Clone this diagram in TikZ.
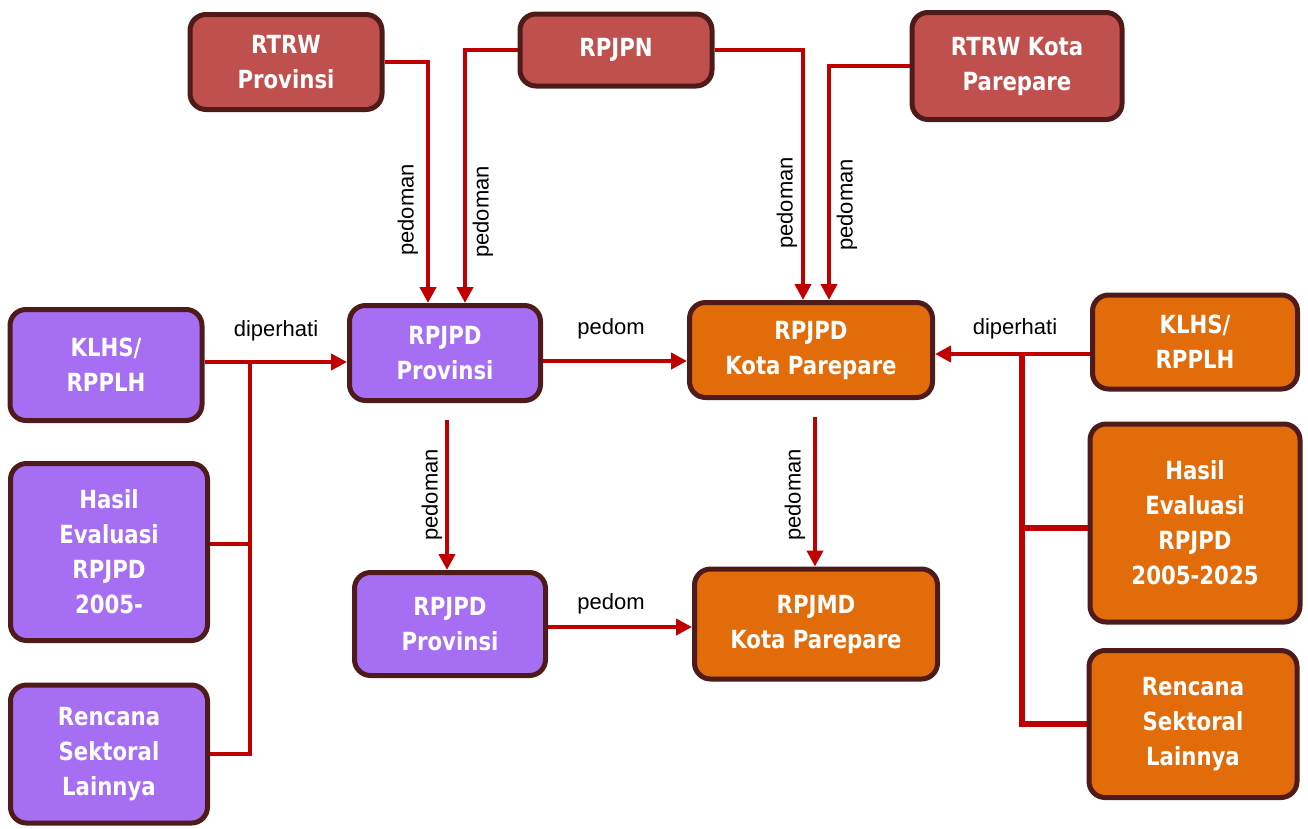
\documentclass[tikz,border=0pt]{standalone}
\usepackage{fontspec}
\setmainfont{DejaVu Sans}[FakeStretch=0.85]
\newfontfamily\lblfont{Liberation Sans}
\usetikzlibrary{arrows.meta,positioning}
\definecolor{boxred}{HTML}{C0504D}
\definecolor{boxpurple}{HTML}{A66EF2}
\definecolor{boxorange}{HTML}{E36C0A}
\definecolor{boxedge}{HTML}{4F1A1A}
\definecolor{linered}{HTML}{C00000}
\tikzset{
  box/.style={draw=boxedge, line width=5pt, rounded corners=16pt, align=center,
    text=white, font=\bfseries\fontsize{25}{35}\selectfont, inner sep=2pt},
  redbox/.style={box, fill=boxred},
  purplebox/.style={box, fill=boxpurple},
  orangebox/.style={box, fill=boxorange},
  con/.style={draw=linered, line width=4.5pt},
  arr/.style={con, -{Triangle[length=16pt,width=16pt]}},
  lbl/.style={font=\lblfont\fontsize{22}{24}\selectfont, text=black, inner sep=0pt},
  vlbl/.style={lbl, rotate=90}
}
\begin{document}
\begin{tikzpicture}[x=1pt,y=-1pt]
\useasboundingbox (0,0) rectangle (1308,828);
% top boxes
\node[redbox, minimum width=192pt, minimum height=95pt] (rtrwp) at (286,62) {RTRW\\Provinsi};
\node[redbox, minimum width=192pt, minimum height=72pt] (rpjpn) at (616,50) {RPJPN};
\node[redbox, minimum width=210pt, minimum height=107pt] (rtrwk) at (1017,66) {RTRW Kota\\Parepare};
% middle
\node[purplebox, minimum width=192pt, minimum height=111pt] (klhsL) at (106,365) {KLHS/\\RPPLH};
\node[purplebox, minimum width=191pt, minimum height=95pt] (rpjpdP) at (445,353) {RPJPD\\Provinsi};
\node[orangebox, minimum width=243pt, minimum height=95pt] (rpjpdK) at (811,350) {RPJPD\\Kota Parepare};
\node[orangebox, minimum width=205pt, minimum height=94pt] (klhsR) at (1195,342) {KLHS/\\RPPLH};
% lower
\node[purplebox, minimum width=197pt, minimum height=177pt] (hasilL) at (109,552) {Hasil\\Evaluasi\\RPJPD\\2005-};
\node[orangebox, minimum width=210pt, minimum height=198pt] (hasilR) at (1195,523) {Hasil\\Evaluasi\\RPJPD\\2005-2025};
\node[purplebox, minimum width=197pt, minimum height=138pt] (rencL) at (109,754) {Rencana\\Sektoral\\Lainnya};
\node[orangebox, minimum width=208pt, minimum height=147pt] (rencR) at (1193,724) {Rencana\\Sektoral\\Lainnya};
\node[purplebox, minimum width=191pt, minimum height=103pt] (rpjpdP2) at (450,624) {RPJPD\\Provinsi};
\node[orangebox, minimum width=243pt, minimum height=110pt] (rpjmd) at (816,624) {RPJMD\\Kota Parepare};
% top connectors
\draw[arr] (rtrwp.east) -| ([xshift=-17pt]rpjpdP.north);
\draw[arr] (rpjpn.west) -| ([xshift=20pt]rpjpdP.north);
\draw[arr] (rpjpn.east) -| ([xshift=-8pt]rpjpdK.north);
\draw[arr] (rtrwk.west) -| ([xshift=18pt]rpjpdK.north);
\node[vlbl] (l1) at (408,210) {pedoman};
\node[vlbl] (l2) at (483,212) {pedoman};
\node[vlbl] (l3) at (787,203) {pedoman};
\node[vlbl] (l4) at (847,205) {pedoman};
% left bus
\coordinate (busL) at (250,362);
\draw[arr] ([yshift=3pt]klhsL.east) -- ([yshift=3pt]klhsL.east -| rpjpdP.west);
\draw[con] (rencL.east) -| (busL);
\draw[con] ([yshift=8pt]hasilL.east) -- ([yshift=8pt]hasilL.east -| busL);
\node[lbl] (dl) at (276,331) {diperhati};
% right bus
\coordinate (busR) at (1022,354);
\draw[arr] ([yshift=-12pt]klhsR.west) -- ([yshift=-12pt]klhsR.west -| rpjpdK.east);
\draw[con, line width=6.5pt] (rencR.west) -| (busR);
\draw[con, line width=6pt] ([yshift=-5pt]hasilR.west) -- ([yshift=-5pt]hasilR.west -| busR);
\node[lbl] (dr) at (1015,329) {diperhati};
% middle horizontals
\draw[arr] ([yshift=-8pt]rpjpdP.east) -- ([yshift=-8pt]rpjpdP.east -| rpjpdK.west);
\node[lbl] (p1) at (611,329) {pedom};
\draw[arr] ([yshift=-3pt]rpjpdP2.east) -- ([yshift=-3pt]rpjpdP2.east -| rpjmd.west);
\node[lbl] (p2) at (611,604) {pedom};
% downward
\draw[arr] ([xshift=2pt,yshift=-17pt]rpjpdP.south) -- ([xshift=-3pt]rpjpdP2.north);
\draw[arr] ([xshift=4pt,yshift=-17pt]rpjpdK.south) -- ([xshift=-1pt]rpjmd.north);
\node[vlbl] (l5) at (432,495) {pedoman};
\node[vlbl] (l6) at (795,495) {pedoman};
\end{tikzpicture}
\end{document}
